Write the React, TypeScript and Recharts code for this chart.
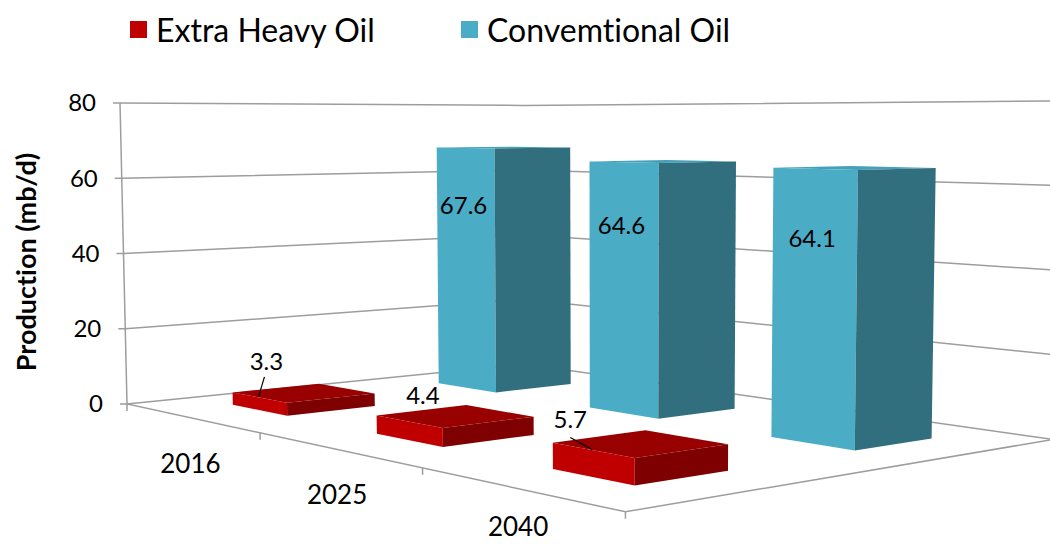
import { Bar, BarChart, CartesianGrid, XAxis, YAxis } from "recharts"

const years = ["2016", "2025", "2040"]
const extraHeavy = [3.3, 4.4, 5.7]
const conventional = [67.6, 64.6, 64.1]
const valueTicks = [0, 20, 40, 60, 80]
const seriesNames = { heavy: "Extra Heavy Oil", conv: "Convemtional Oil" }

const data = years.map((year, i) => ({ year, heavy: extraHeavy[i], conv: conventional[i] }))

type Key = "heavy" | "conv"

const FONT = "Lato, 'Open Sans', sans-serif"
const GRID = "#9d9d9d"
const FACES = {
  heavy: { front: "#c00000", side: "#7e0000", top: "#990000" },
  conv: { front: "#4bacc6", side: "#316f7f", top: "#45a1b9" },
}

// floor rows (0 = front edge, 1 = back wall) and half width of a column in category units
const ROW = { heavy: [0.15, 0.35], conv: [0.65, 0.85] }
const HALF_W = 0.2

// perspective of the original 3-D view; the y axis scale is the reference depth (w = 1)
const TOP_Y = 103
const FLOOR_Y = 404
const HORIZON = 120
const EYE = FLOOR_Y - HORIZON
const X0 = 127
const AX = 108.8
const AZ = 483
const CX = -0.0917
const CZ = 0.164
const NCAT = years.length

function proj(X: number, Z: number, h: number): [number, number] {
  const w = 1 + CX * X + CZ * Z
  let x = (X0 + AX * X + AZ * Z) / w
  const y = HORIZON + (EYE - h) / w
  x += (x - 616) * (y - FLOOR_Y) * -4.76e-5 // slight keystone, verticals lean in
  return [x, y]
}

const pts = (list: [number, number][]) => list.map((p) => `${p[0].toFixed(1)},${p[1].toFixed(1)}`).join(" ")

// hand placed labels of the thin red columns, relative to the top face centre
const heavyLabelShift = [[-37, -31], [-32, -20], [-70, -24]]
const heavyLeaders: (number[][] | null)[] = [[[-2, 15], [-8, 35]], null, [[0, 18], [22, 30]]]

const txt = { fontFamily: FONT, fill: "#000", style: { fontVariantLigatures: "none" as const } }

function wallLine(p: any) {
  const h = FLOOR_Y - p.y1
  const a = proj(0, 0, h)
  const d = proj(0, 1, h)
  const c = proj(NCAT, 1, h)
  const floor = Math.abs(h) < 0.5
  const top = proj(0, 0, FLOOR_Y - TOP_Y)
  const b = proj(NCAT, 0, 0)
  return (
    <g key={`wall-${p.index}`}>
      <polyline points={pts([a, d, c])} fill="none" stroke={GRID} strokeWidth={1.5} />
      {floor && (
        <g>
          <polyline points={pts([top, a, b, proj(NCAT, 1, 0)])} fill="none" stroke={GRID} strokeWidth={1.5} />
          {Array.from({ length: NCAT + 1 }, (_, k) => {
            const [tx, ty] = proj(k, 0, 0)
            return <line key={k} x1={tx} y1={ty} x2={tx} y2={ty + 7} stroke={GRID} strokeWidth={1.5} />
          })}
        </g>
      )}
    </g>
  )
}

function ValueTick(p: any) {
  const [x, y] = proj(0, 0, FLOOR_Y - p.y)
  return (
    <g>
      <line x1={x - 7} y1={y} x2={x} y2={y} stroke={GRID} strokeWidth={1.5} />
      <text x={x - 24} y={y} dy="0.35em" textAnchor="end" fontSize={24} {...txt}>
        {p.payload.value}
      </text>
    </g>
  )
}

function YearTick(p: any) {
  const i = years.indexOf(String(p.payload.value))
  const [x, y] = proj(i + 0.5, 0, 0)
  return (
    <text x={x} y={Math.min(y + 46, 527)} dy="0.35em" textAnchor="middle" fontSize={26} {...txt}>
      {p.payload.value}
    </text>
  )
}

function Title() {
  return (
    <text x={27} y={262} transform="rotate(-90 27 262)" textAnchor="middle" dy="0.35em" fontSize={27} fontWeight="bold" {...txt}>
      Production (mb/d)
    </text>
  )
}

function column(key: Key) {
  return (p: any) => {
    const i = p.payload ? years.indexOf(p.payload.year) : p.index
    const h = p.height
    const [z0, z1] = ROW[key]
    const x0 = i + 0.5 - HALF_W
    const x1 = i + 0.5 + HALF_W
    const f = FACES[key]
    const value = key === "heavy" ? extraHeavy[i] : conventional[i]
    let label
    if (key === "conv") {
      const [lx, ly] = proj(i + 0.5, z0, h - 61)
      label = (
        <text x={lx - 2} y={ly} dy="0.35em" textAnchor="middle" fontSize={24} {...txt}>
          {value}
        </text>
      )
    } else {
      const [cx, cy] = proj(i + 0.5, (z0 + z1) / 2, h)
      const lx = cx + heavyLabelShift[i][0]
      const ly = cy + heavyLabelShift[i][1]
      const lead = heavyLeaders[i]
      label = (
        <g>
          {lead && <line x1={lx + lead[0][0]} y1={ly + lead[0][1]} x2={lx + lead[1][0]} y2={ly + lead[1][1]} stroke="#000" strokeWidth={1.2} />}
          <text x={lx} y={ly} dy="0.35em" textAnchor="middle" fontSize={24} {...txt}>
            {value}
          </text>
        </g>
      )
    }
    return (
      <g>
        <polygon points={pts([proj(x0, z0, h), proj(x1, z0, h), proj(x1, z1, h), proj(x0, z1, h)])} fill={f.top} />
        <polygon points={pts([proj(x0, z0, 0), proj(x1, z0, 0), proj(x1, z0, h), proj(x0, z0, h)])} fill={f.front} />
        <polygon points={pts([proj(x1, z0, 0), proj(x1, z1, 0), proj(x1, z1, h), proj(x1, z0, h)])} fill={f.side} />
        {label}
      </g>
    )
  }
}

function LegendItem({ left, color, name }: { left: number; color: string; name: string }) {
  return (
    <div style={{ position: "absolute", left, top: 9, height: 40, display: "flex", alignItems: "center" }}>
      <span style={{ width: 17, height: 17, background: color, display: "inline-block", marginRight: 9 }} />
      <span style={{ fontFamily: FONT, fontSize: 32, color: "#000", whiteSpace: "nowrap", fontVariantLigatures: "none" }}>{name}</span>
    </div>
  )
}

export default function App() {
  return (
    <div style={{ position: "absolute", left: 0, top: 0, width: 1050, height: 544, background: "#fff", overflow: "hidden" }}>
      <LegendItem left={130} color={FACES.heavy.front} name={seriesNames.heavy} />
      <LegendItem left={461} color={FACES.conv.front} name={seriesNames.conv} />
      <div style={{ position: "absolute", left: 0, top: 0 }}>
        <BarChart width={1050} height={544} data={data} margin={{ top: TOP_Y, right: 20, bottom: 544 - FLOOR_Y - 40, left: 50 }}>
          <CartesianGrid vertical={false} horizontal={wallLine} />
          <XAxis dataKey="year" height={40} axisLine={false} tickLine={false} interval={0} tick={YearTick} />
          <YAxis
            domain={[0, 80]}
            ticks={valueTicks}
            width={70}
            axisLine={false}
            tickLine={false}
            tick={ValueTick}
            label={{ content: Title }}
          />
          <Bar dataKey="conv" name={seriesNames.conv} shape={column("conv")} isAnimationActive={false} />
          <Bar dataKey="heavy" name={seriesNames.heavy} shape={column("heavy")} isAnimationActive={false} />
        </BarChart>
      </div>
    </div>
  )
}
